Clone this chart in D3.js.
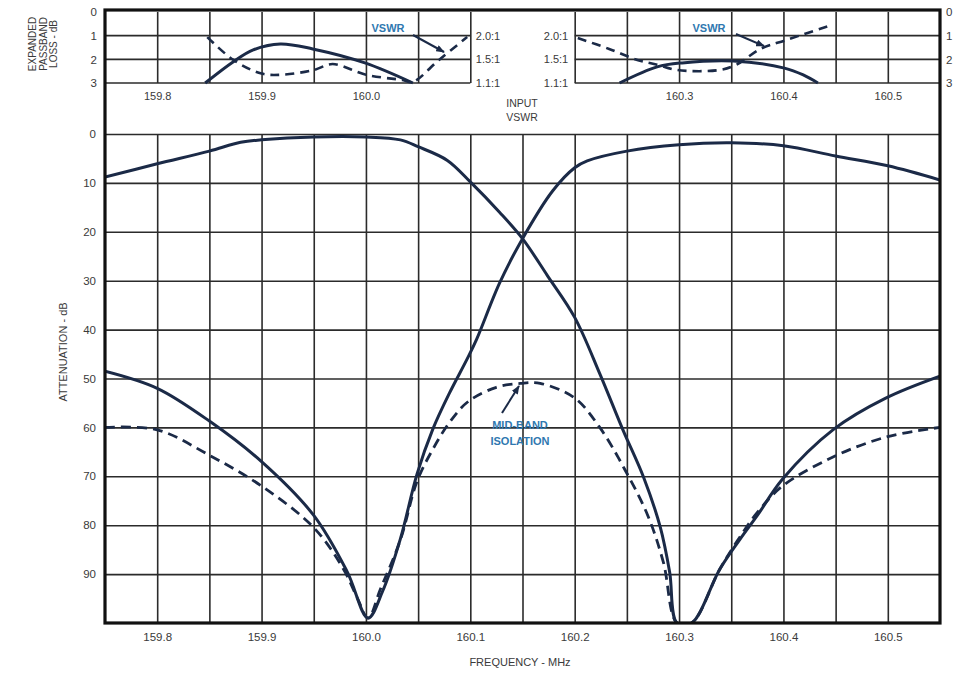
<!DOCTYPE html>
<html><head><meta charset="utf-8">
<script src="https://cdn.jsdelivr.net/npm/d3@7"></script>
<style>
body{margin:0;background:#fff}
svg text{font-family:"Liberation Sans Narrow","Arial Narrow","Liberation Sans",Arial,sans-serif;font-stretch:condensed;}
</style></head><body><svg id="c" width="961" height="673"></svg>
<script>
// ---------- data ----------
const freqLabelTicks = [159.8, 159.9, 160.0, 160.1, 160.2, 160.3, 160.4, 160.5];
const freqGridTicks = [159.8,159.85,159.9,159.95,160.0,160.05,160.1,160.15,160.2,160.25,160.3,160.35,160.4,160.45,160.5];
const attenTicks = [0,10,20,30,40,50,60,70,80,90];
const insetLossTicks = [0,1,2,3];
const vswrTicks = ["2.0:1","1.5:1","1.1:1"];
const vswrTickValues = [2.0,1.5,1.1];
const insetLeftGrid = [159.8,159.85,159.9,159.95,160.0,160.05,160.1];
const insetRightGrid = [160.2,160.25,160.3,160.35,160.4,160.45,160.5];
const insetLeftLabels = [159.8,159.9,160.0];
const insetRightLabels = [160.3,160.4,160.5];

// Channel 1 (low) attenuation, dB
const channel1 = [[159.75,8.8],[159.8,6.1],[159.85,3.5],[159.88,1.7],[159.9,1.2],[159.95,0.6],[160.0,0.6],
  [160.033,1.2],[160.05,2.6],[160.078,5.4],[160.1,9.8],[160.128,16],[160.15,21.4],[160.174,29],[160.2,37.5],
  [160.224,49],[160.246,60.4],[160.266,70.2],[160.282,80.4],[160.291,89.6],[160.298,100],[160.312,100],
  [160.339,89],[160.358,83],[160.375,78],[160.399,70.6],[160.448,60.4],[160.498,54],[160.55,49.5]];
// Channel 2 (high) attenuation, dB
const channel2 = [[159.75,48.5],[159.8,52],[159.85,58.7],[159.9,67],[159.95,78],[159.982,89.5],[160.002,99],
  [160.016,93.5],[160.033,82.8],[160.049,69.5],[160.064,60.4],[160.08,53],[160.097,46],[160.106,42],
  [160.128,30.5],[160.15,21.4],[160.179,11.6],[160.2,6.9],[160.212,5.5],[160.25,3.5],[160.3,2.2],
  [160.35,1.8],[160.4,2.4],[160.45,4.5],[160.5,6.5],[160.55,9.4]];
// Isolation (dashed)
const isolation = [[159.75,60],[159.8,60.5],[159.85,65.7],[159.9,72],[159.95,80.5],[159.978,88.8],[159.992,95],
  [160.002,99],[160.014,93],[160.033,83],[160.049,71],[160.064,64.5],[160.08,59],[160.098,54.7],[160.125,51.8],
  [160.148,51],[160.167,51],[160.2,54],[160.224,60],[160.248,68.6],[160.27,78],[160.285,87.6],[160.298,100],
  [160.312,100],[160.339,89],[160.358,82.5],[160.375,77.4],[160.399,72],[160.448,66],[160.498,62],[160.55,60]];
// Expanded passband loss, dB
const lossLeft = [[159.846,3.0],[159.873,2.1],[159.892,1.6],[159.918,1.35],[159.949,1.56],[159.999,2.15],[160.045,3.0]];
const lossRight = [[160.243,3.0],[160.279,2.32],[160.303,2.15],[160.352,2.07],[160.401,2.37],[160.419,2.66],[160.433,3.0]];
// Input VSWR (ratio :1)
const vswrLeft = [[159.848,1.97],[159.873,1.49],[159.9,1.26],[159.92,1.24],[159.95,1.32],[159.968,1.42],[160.0,1.24],
  [160.035,1.15],[160.045,1.12],[160.07,1.49],[160.097,1.97]];
const vswrRight = [[160.203,1.95],[160.233,1.72],[160.26,1.49],[160.279,1.41],[160.298,1.32],[160.339,1.32],
  [160.355,1.41],[160.378,1.72],[160.403,1.91],[160.447,2.23]];

// ---------- scales ----------
const svg = d3.select("#c");
svg.append("rect").attr("width",961).attr("height",673).attr("fill","#fff");
const x = d3.scaleLinear().domain([159.75,160.55]).range([105,940]);
const y = d3.scaleLinear().domain([0,100]).range([134,623]);
const yIn = d3.scaleLinear().domain([0,3]).range([12,83]);
const yV = d3.scaleLinear().domain([1.1,1.5,2.0]).range([yIn(3),yIn(2),yIn(1)]);

const ink = "#1b2a47", gridC = "#2b2b2b", txt = "#3a3a3a", blue = "#2f78b0";

svg.append("defs").append("marker").attr("id","arr").attr("viewBox","0 0 10 8")
  .attr("refX",9).attr("refY",4).attr("markerWidth",9).attr("markerHeight",7).attr("orient","auto")
  .attr("markerUnits","userSpaceOnUse")
  .append("path").attr("d","M0,0 L10,4 L0,8 z").attr("fill",ink);

// ---------- main grid ----------
const g = svg.append("g");
const gx = g.append("g").attr("transform",`translate(0,${y(100)})`)
  .call(d3.axisBottom(x).tickValues(freqGridTicks).tickSize(-(y(100)-y(0))).tickFormat(""));
const gy = g.append("g").attr("transform",`translate(${x(159.75)},0)`)
  .call(d3.axisLeft(y).tickValues(attenTicks).tickSize(-(x(160.55)-x(159.75))).tickFormat(""));
[gx,gy].forEach(a=>{a.select(".domain").remove();a.selectAll("line").attr("stroke",gridC).attr("stroke-width",1.6);});

// main labels
const lx = g.append("g").attr("transform",`translate(0,${y(100)})`)
  .call(d3.axisBottom(x).tickValues(freqLabelTicks).tickSize(0).tickPadding(10).tickFormat(d3.format(".1f")));
const ly = g.append("g").attr("transform",`translate(${x(159.75)},0)`)
  .call(d3.axisLeft(y).tickValues(attenTicks).tickSize(0).tickPadding(9).tickFormat(d3.format("d")));
[lx,ly].forEach(a=>{a.select(".domain").remove();a.selectAll("text").attr("fill",txt).style("font-size","11.5px");});

// ---------- inset grid ----------
function insetGrid(ticks, x0, x1){
  const ig = svg.append("g");
  const a = ig.append("g").attr("transform",`translate(0,${yIn(3)})`)
    .call(d3.axisBottom(x).tickValues(ticks).tickSize(-(yIn(3)-yIn(0))).tickFormat(""));
  ig.selectAll(".hl").data([1,2,3]).join("line")
    .attr("x1",x(x0)).attr("x2",x(x1)).attr("y1",d=>yIn(d)).attr("y2",d=>yIn(d))
    .attr("stroke",gridC).attr("stroke-width",1.6);
  a.select(".domain").remove();
  a.selectAll("line").attr("stroke",gridC).attr("stroke-width",1.6);
}
insetGrid(insetLeftGrid,159.75,160.1);
insetGrid(insetRightGrid,160.2,160.55);

function insetLabels(ticks){
  const a = svg.append("g").attr("transform",`translate(0,${yIn(3)})`)
    .call(d3.axisBottom(x).tickValues(ticks).tickSize(0).tickPadding(9).tickFormat(d3.format(".1f")));
  a.select(".domain").remove();
  a.selectAll("text").attr("fill",txt).style("font-size","11px");
}
insetLabels(insetLeftLabels); insetLabels(insetRightLabels);

// inset loss axis labels (left and right)
const la = svg.append("g").attr("transform",`translate(${x(159.75)},0)`)
  .call(d3.axisLeft(yIn).tickValues(insetLossTicks).tickSize(0).tickPadding(8).tickFormat(d3.format("d")));
la.select(".domain").remove(); la.selectAll("text").attr("fill",txt).style("font-size","11.5px");
const ra = svg.append("g").attr("transform",`translate(${x(160.55)},0)`)
  .call(d3.axisRight(yIn).tickValues(insetLossTicks).tickSize(0).tickPadding(6).tickFormat(d3.format("d")));
ra.select(".domain").remove(); ra.selectAll("text").attr("fill",txt).style("font-size","11.5px");

// VSWR labels (two columns)
[488,556].forEach(cx=>{
  svg.append("g").selectAll("text").data(vswrTickValues).join("text")
    .attr("x",cx).attr("y",d=>yV(d)).attr("dy","0.35em").attr("text-anchor","middle")
    .attr("fill",txt).style("font-size","11px").text((d,i)=>vswrTicks[i]);
});
svg.append("text").attr("x",522).attr("y",107).attr("text-anchor","middle").attr("fill",txt)
  .style("font-size","10.5px").text("INPUT");
svg.append("text").attr("x",522).attr("y",121).attr("text-anchor","middle").attr("fill",txt)
  .style("font-size","10.5px").text("VSWR");

// ---------- curves ----------
const cr = d3.curveCatmullRom.alpha(0.5);
const lineMain = d3.line().x(d=>x(d[0])).y(d=>y(d[1])).curve(cr);
const lineLoss = d3.line().x(d=>x(d[0])).y(d=>yIn(d[1])).curve(cr);
const lineV = d3.line().x(d=>x(d[0])).y(d=>yV(d[1])).curve(cr);

svg.append("clipPath").attr("id","mclip").append("rect")
  .attr("x",x(159.75)).attr("y",y(0)-5).attr("width",x(160.55)-x(159.75)).attr("height",y(100)-y(0)+5);
const cg = svg.append("g").attr("clip-path","url(#mclip)");
cg.append("path").attr("d",lineMain(isolation)).attr("fill","none").attr("stroke",ink)
  .attr("stroke-width",2.8).attr("stroke-dasharray","10,6");
[channel1,channel2].forEach(s=>cg.append("path").attr("d",lineMain(s)).attr("fill","none")
  .attr("stroke",ink).attr("stroke-width",3));

[lossLeft,lossRight].forEach(s=>svg.append("path").attr("d",lineLoss(s)).attr("fill","none")
  .attr("stroke",ink).attr("stroke-width",3));
[vswrLeft,vswrRight].forEach(s=>svg.append("path").attr("d",lineV(s)).attr("fill","none")
  .attr("stroke",ink).attr("stroke-width",2.6).attr("stroke-dasharray","9,6"));

// ---------- frame ----------
svg.append("rect").attr("x",x(159.75)).attr("y",yIn(0)-2).attr("width",x(160.55)-x(159.75))
  .attr("height",y(100)-yIn(0)+2).attr("fill","none").attr("stroke","#111").attr("stroke-width",3.2);

// ---------- annotations ----------
function annot(tx,ty,lines,ax1,ay1,ax2,ay2){
  const t = svg.append("text").attr("x",tx).attr("y",ty).attr("text-anchor","middle")
    .attr("fill",blue).style("font-size","11px").style("font-weight","bold");
  lines.forEach((l,i)=>t.append("tspan").attr("x",tx).attr("dy",i?"1.45em":0).text(l));
  svg.append("line").attr("x1",ax1).attr("y1",ay1).attr("x2",ax2).attr("y2",ay2)
    .attr("stroke",ink).attr("stroke-width",2).attr("marker-end","url(#arr)");
}
annot(388,32,["VSWR"],413,35,444,52);
annot(709,32,["VSWR"],736,34,764,46);
annot(520,429,["MID-BAND","ISOLATION"],502,413,519,386);

// ---------- titles ----------
svg.append("text").attr("x",520).attr("y",666).attr("text-anchor","middle").attr("fill",txt)
  .style("font-size","11px").text("FREQUENCY - MHz");
svg.append("text").attr("transform","translate(67,352) rotate(-90)").attr("text-anchor","middle")
  .attr("fill",txt).style("font-size","11px").text("ATTENUATION - dB");
const tt = svg.append("text").attr("transform","translate(36,44) rotate(-90)").attr("text-anchor","middle")
  .attr("fill",txt).style("font-size","10px");
["EXPANDED","PASSBAND","LOSS - dB"].forEach((l,i)=>tt.append("tspan").attr("x",0).attr("dy",i?"1.05em":0).text(l));
</script></body></html>
